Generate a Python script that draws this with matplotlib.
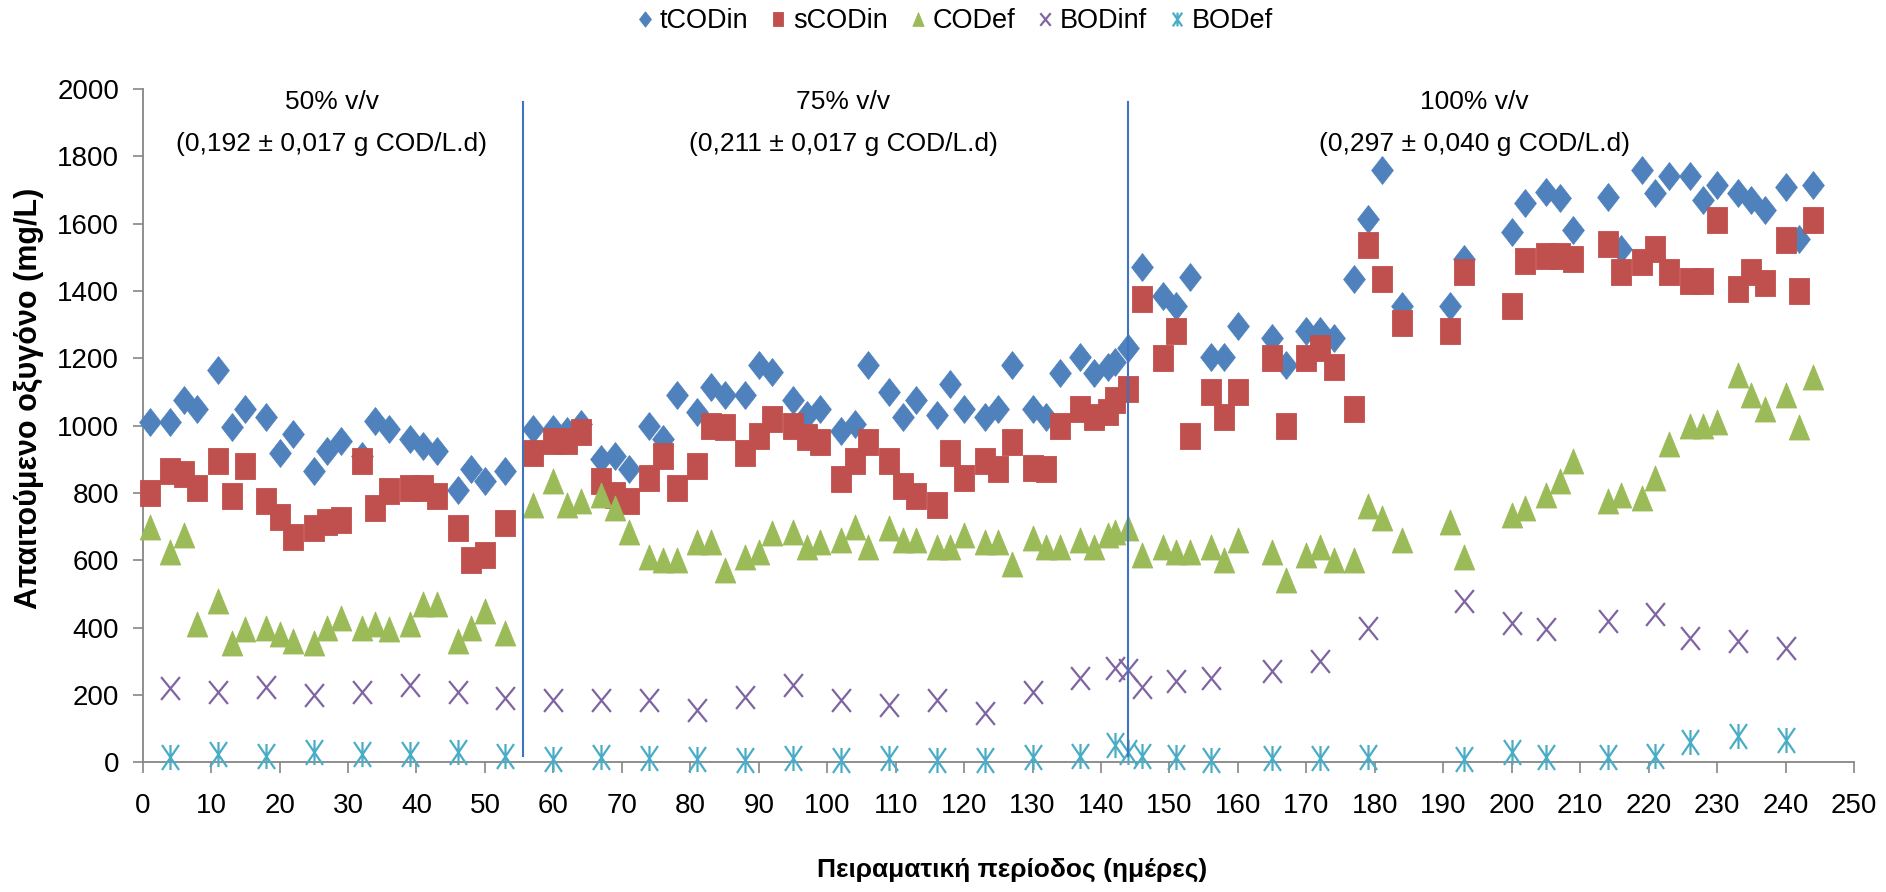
import matplotlib
matplotlib.use("Agg")
import matplotlib.pyplot as plt
from matplotlib.path import Path

plt.rcParams['font.family'] = ['Liberation Sans', 'DejaVu Sans']

# sampling days for the COD measurements
cod_days = [1, 4, 6, 8, 11, 13, 15, 18, 20, 22, 25, 27, 29, 32, 34, 36, 39, 41, 43, 46, 48, 50, 53,
            57, 60, 62, 64, 67, 69, 71, 74, 76, 78, 81, 83, 85, 88, 90, 92, 95, 97, 99, 102,
            104, 106, 109, 111, 113, 116, 118, 120, 123, 125, 127, 130, 132, 134, 137, 139, 141, 142, 144,
            146, 149, 151, 153, 156, 158, 160, 165, 167, 170, 172, 174, 177, 179, 181, 184, 191, 193,
            200, 202, 205, 207, 209, 214, 216, 219, 221, 223, 226, 228, 230, 233, 235, 237, 240, 242, 244]

tcod_in = [1010, 1010, 1075, 1050, 1165, 995, 1050, 1025, 920, 975, 865, 925, 955, 910, 1015, 990, 960, 940, 925, 810, 870, 835, 865,
           990, 990, 985, 1005, 900, 910, 870, 1000, 960, 1090, 1040, 1115, 1090, 1090, 1180, 1160, 1075, 1030, 1050, 985,
           1005, 1180, 1100, 1025, 1075, 1030, 1125, 1050, 1025, 1050, 1180, 1050, 1025, 1155, 1205, 1155, 1175, 1190, 1230,
           1470, 1385, 1355, 1440, 1205, 1205, 1295, 1260, 1180, 1280, 1280, 1260, 1435, 1615, 1760, 1355, 1355, 1495,
           1575, 1660, 1695, 1675, 1580, 1680, 1525, 1760, 1690, 1740, 1740, 1670, 1715, 1690, 1670, 1640, 1710, 1555, 1715]

scod_in = [800, 865, 855, 815, 895, 790, 880, 775, 730, 670, 695, 715, 720, 895, 755, 805, 815, 815, 790, 695, 600, 615, 710,
           920, 955, 955, 980, 835, 795, 775, 845, 910, 815, 880, 1000, 995, 920, 970, 1020, 1000, 965, 950, 840,
           895, 950, 895, 820, 790, 765, 920, 845, 895, 870, 950, 875, 870, 1000, 1050, 1025, 1040, 1075, 1110,
           1375, 1200, 1280, 970, 1100, 1025, 1100, 1200, 1000, 1200, 1230, 1175, 1050, 1535, 1435, 1305, 1280, 1455,
           1355, 1490, 1505, 1505, 1495, 1540, 1455, 1485, 1525, 1455, 1430, 1430, 1610, 1405, 1455, 1425, 1550, 1400, 1610]

cod_ef = [700, 625, 675, 410, 480, 355, 395, 400, 380, 360, 355, 400, 430, 400, 410, 395, 410, 470, 470, 360, 400, 450, 385,
          765, 835, 765, 775, 795, 755, 685, 610, 600, 600, 655, 655, 570, 610, 625, 680, 685, 640, 655, 660,
          700, 640, 695, 660, 660, 640, 640, 675, 655, 655, 590, 665, 640, 640, 660, 640, 675, 685, 695,
          615, 640, 625, 625, 640, 600, 660, 625, 540, 615, 640, 600, 600, 760, 725, 660, 715, 610,
          735, 755, 795, 835, 895, 775, 795, 785, 845, 945, 1000, 1000, 1010, 1150, 1090, 1050, 1090, 995, 1145]

# weekly BOD samples
bod_days = [4, 11, 18, 25, 32, 39, 46, 53, 60, 67, 74, 81, 88, 95, 102, 109, 116, 123, 130, 137,
            142, 144, 146, 151, 156, 165, 172, 179, 193, 200, 205, 214, 221, 226, 233, 240]
bod_inf = [220, 210, 225, 200, 210, 230, 210, 190, 185, 185, 185, 155, 195, 230, 185, 170, 185, 145, 210, 250,
           280, 275, 225, 240, 250, 270, 300, 400, 480, 415, 395, 420, 440, 370, 360, 340]
bod_ef = [15, 25, 20, 30, 25, 25, 30, 20, 10, 15, 12, 10, 8, 12, 8, 12, 8, 8, 15, 20,
          50, 32, 18, 15, 8, 12, 12, 15, 10, 30, 15, 15, 20, 60, 78, 66]

# feed dilution phases
phase_edges = [55.5, 144]
phase_mid = [27.6, 102.3, 194.5]
phase_name = ["50% v/v", "75% v/v", "100% v/v"]
phase_olr = ["(0,192 ± 0,017 g COD/L.d)", "(0,211 ± 0,017 g COD/L.d)", "(0,297 ± 0,040 g COD/L.d)"]

# slightly tall marker shapes
diamond = Path([(0, 1), (0.78, 0), (0, -1), (-0.78, 0), (0, 1)], closed=True)
square = Path([(-0.76, -1), (0.76, -1), (0.76, 1), (-0.76, 1), (-0.76, -1)], closed=True)
triangle = Path([(0, 1), (0.82, -1), (-0.82, -1), (0, 1)], closed=True)
cross = Path([(-0.82, -1), (0.82, 1), (-0.82, 1), (0.82, -1)],
             [Path.MOVETO, Path.LINETO, Path.MOVETO, Path.LINETO])
star = Path([(-0.68, -1), (0.68, 1), (-0.68, 1), (0.68, -1), (0, -1), (0, 1)],
            [Path.MOVETO, Path.LINETO, Path.MOVETO, Path.LINETO, Path.MOVETO, Path.LINETO])

fig = plt.figure(figsize=(18.86, 8.92), dpi=100)
ax = fig.add_axes([0.07565, 0.14540, 0.90738, 0.75494])

common = dict(linestyle='none', clip_on=False, zorder=3)
ax.plot(cod_days, tcod_in, marker=diamond, ms=20, color='#4F81BD', mew=0.6, label='tCODin', **common)
ax.plot(cod_days, scod_in, marker=square, ms=18.5, color='#C0504D', mew=0.6, label='sCODin', **common)
ax.plot(cod_days, cod_ef, marker=triangle, ms=18, color='#9BBB59', mew=0.6, label='CODef', **common)
ax.plot(bod_days, bod_inf, marker=cross, ms=16.5, color='#8064A2', mfc='none', mew=1.6, label='BODinf', **common)
ax.plot(bod_days, bod_ef, marker=star, ms=18, color='#4BACC6', mfc='none', mew=1.6, label='BODef', **common)

for d in phase_edges:
    ax.plot([d, d], [20, 1960], color='#3F72C0', lw=1.5, zorder=4)

for xm, name, olr in zip(phase_mid, phase_name, phase_olr):
    ax.text(xm, 1960, name, ha='center', va='center', fontsize=19)
    ax.text(xm, 1835, olr, ha='center', va='center', fontsize=19)

ax.set_xlim(0, 250)
ax.set_ylim(0, 2000)
ax.set_xticks(range(0, 251, 10))
ax.set_yticks(range(0, 2001, 200))
for side in ['top', 'right']:
    ax.spines[side].set_visible(False)
for side in ['left', 'bottom']:
    ax.spines[side].set_color('#868686')
    ax.spines[side].set_linewidth(1.3)
ax.tick_params(axis='x', direction='out', length=8, width=1.2, color='#868686', labelsize=20, pad=14)
ax.tick_params(axis='y', direction='out', length=7, width=1.2, color='#868686', labelsize=20, pad=10)

fig.text(1012 / 1886, 1 - 870 / 892, 'Πειραματική περίοδος (ημέρες)', ha='center', va='center',
         fontsize=19, fontweight='bold')
fig.text(29 / 1886, 1 - 398 / 892, 'Απαιτούμενο οξυγόνο (mg/L)', ha='center', va='center',
         rotation=90, fontsize=22, fontweight='bold')

fig.legend(loc='center', bbox_to_anchor=(955 / 1886, 1 - 21 / 892), ncol=5, frameon=False,
           fontsize=19.5, handlelength=0.6, handletextpad=0.25, columnspacing=0.8, markerscale=0.55)

fig.savefig('out.png', dpi=100)
